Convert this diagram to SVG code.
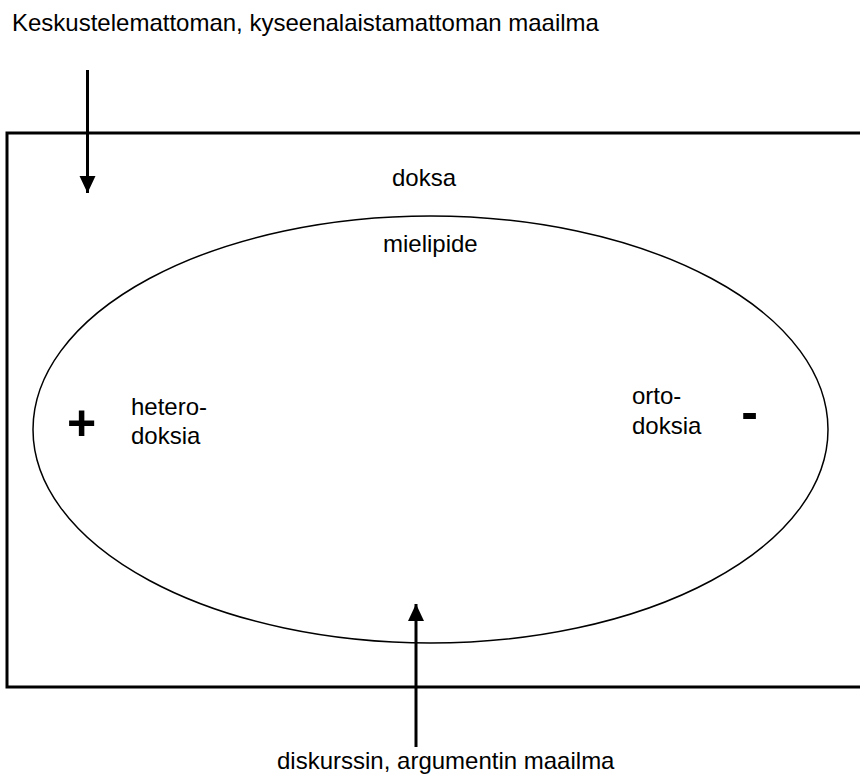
<svg xmlns="http://www.w3.org/2000/svg" width="860" height="776" viewBox="0 0 860 776">
<style>
text{font-family:"Liberation Sans",Arial,sans-serif;font-size:24px;fill:#000}
.sign{font-weight:bold;font-size:50px}
.ln{fill:none;stroke:#000;stroke-width:3}
</style>
<defs>
<marker id="ah" markerUnits="userSpaceOnUse" markerWidth="18" markerHeight="18" viewBox="0 0 18 18" refX="17" refY="9" orient="auto">
<path d="M0,1 L17,9 L0,17 Z" fill="#000"/>
</marker>
</defs>
<rect width="860" height="776" fill="#fff"/>
<g id="frame">
<path class="ln" d="M864,133 H7 V687 H864"/>
</g>
<g id="ellipse">
<ellipse cx="430.5" cy="429.5" rx="397.5" ry="213.5" fill="none" stroke="#000" stroke-width="1.5"/>
</g>
<g id="connectors">
<line class="ln" x1="87.5" y1="70" x2="87.5" y2="193" marker-end="url(#ah)"/>
<line class="ln" x1="416" y1="747" x2="416" y2="604" marker-end="url(#ah)"/>
</g>
<g id="top-label"><text x="12" y="31">Keskustelemattoman, kyseenalaistamattoman maailma</text></g>
<g id="bottom-label"><text x="277" y="769">diskurssin, argumentin maailma</text></g>
<g id="doksa"><text x="392" y="186">doksa</text></g>
<g id="mielipide"><text x="383" y="252">mielipide</text></g>
<g id="heterodoksia">
<text x="131" y="415">hetero-</text>
<text x="131" y="444">doksia</text>
<text class="sign" x="81.7" y="440" text-anchor="middle">+</text>
</g>
<g id="ortodoksia">
<text x="632" y="404">orto-</text>
<text x="632" y="434">doksia</text>
<text class="sign" x="749.7" y="429" text-anchor="middle">-</text>
</g>
</svg>
